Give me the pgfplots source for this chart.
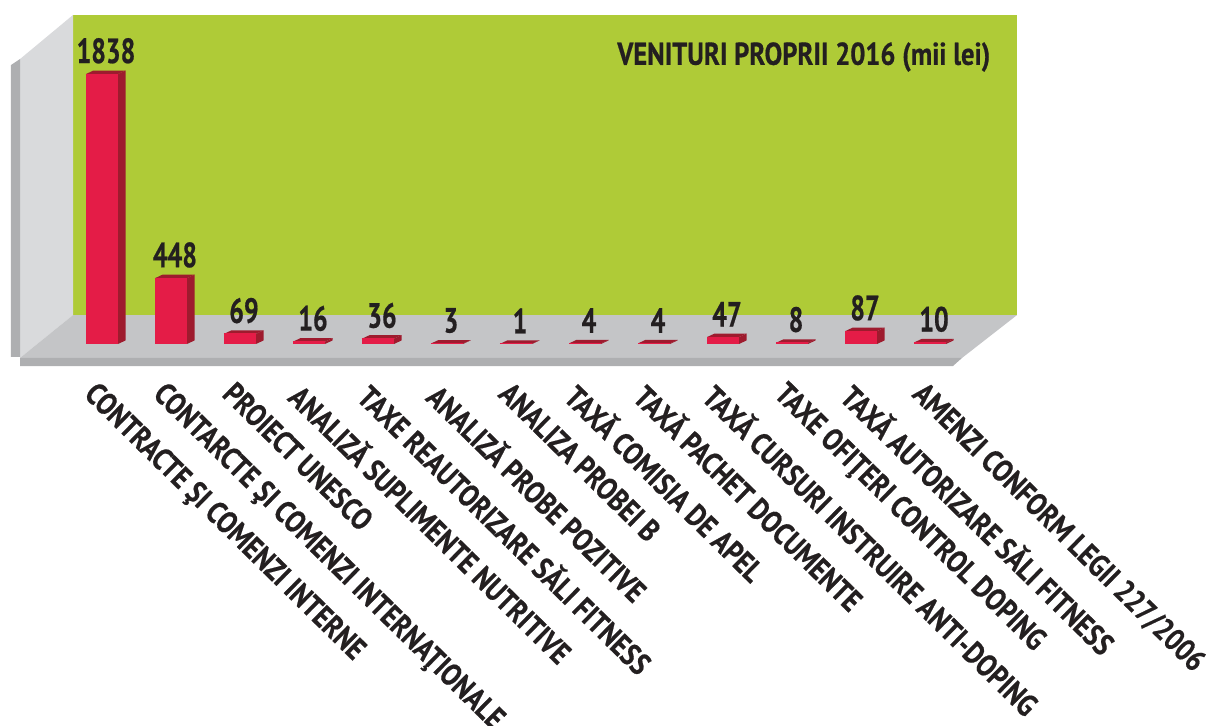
\documentclass[border=0pt]{standalone}
\usepackage{fontspec}
\setmainfont{PT Sans}[FakeStretch=0.84,BoldFeatures={FakeBold=0.5}]
\newfontfamily\numfont{PT Sans}[FakeStretch=0.74,BoldFeatures={FakeBold=0.5}]
\usepackage{pgfplots}
\pgfplotsset{compat=1.18}

\definecolor{wallgreen}{HTML}{AFCB37}
\definecolor{wallside}{HTML}{D9DADC}
\definecolor{wallfloor}{HTML}{C4C5C7}
\definecolor{walledge}{HTML}{AEAFB1}
\definecolor{barfront}{HTML}{E41C47}
\definecolor{barside}{HTML}{9E1B2E}
\definecolor{txt}{HTML}{231F20}

% top and side face of a bar: {position}{value}
\newcommand{\depthbar}[2]{%
  \pgfmathsetmacro{\xl}{#1-0.232}%
  \pgfmathsetmacro{\xr}{#1+0.232}%
  \pgfmathsetmacro{\xlb}{#1-0.232+0.109}%
  \pgfmathsetmacro{\xrb}{#1+0.232+0.109}%
  \pgfmathsetmacro{\yb}{#2+24}%
  \addplot[fill=barside,draw=none,forget plot] coordinates {(\xr,0) (\xrb,24) (\xrb,\yb) (\xr,#2)} -- cycle;
  \addplot[fill=barside,draw=none,forget plot] coordinates {(\xl,#2) (\xr,#2) (\xrb,\yb) (\xlb,\yb)} -- cycle;
}

\begin{document}
\begin{tikzpicture}[x=1pt,y=1pt]
\useasboundingbox (0,-179.5) rectangle (605.5,183);
\begin{axis}[
    at={(0,0)}, anchor=south west,
    scale only axis,
    width=605.5pt, height=183pt,
    xmin=-1.478, xmax=16.072,
    ymin=-150, ymax=2342,
    axis line style={draw=none},
    major tick style={draw=none},
    ytick=\empty,
    xtick={0,1,2,3,4,5,6,7,8,9,10,11,12},
    xticklabels={
        CONTRACTE ŞI COMENZI INTERNE,
        CONTARCTE ŞI COMENZI INTERNAŢIONALE,
        PROIECT UNESCO,
        ANALIZĂ SUPLIMENTE NUTRITIVE,
        TAXE REAUTORIZARE SĂLI FITNESS,
        ANALIZĂ PROBE POZITIVE,
        ANALIZA PROBEI B,
        TAXĂ COMISIA DE APEL,
        TAXĂ PACHET DOCUMENTE,
        TAXĂ CURSURI INSTRUIRE ANTI-DOPING,
        TAXE OFIŢERI CONTROL DOPING,
        TAXĂ AUTORIZARE SĂLI FITNESS,
        AMENZI CONFORM LEGII 227/2006},
    xticklabel style={rotate=-44.5, anchor=north west, font=\bfseries\fontsize{15.5}{17}\selectfont,
        text=txt, inner sep=0pt, xshift=3.5pt, yshift=-6pt},
    clip=false,
]
% walls and floor
\addplot[fill=wallgreen,draw=none,forget plot] coordinates {(-0.420,2240) (13.261,2240) (13.261,197) (-0.420,197)} -- cycle;
\addplot[fill=wallside,draw=none,forget plot] coordinates {(-0.420,2240) (-1.188,1940) (-1.188,-95) (-0.420,197)} -- cycle;
\addplot[fill=walledge,draw=none,forget plot] coordinates {(-1.319,1899) (-1.188,1940) (-1.188,-88) (-1.319,-88)} -- cycle;
\addplot[fill=wallfloor,draw=none,forget plot] coordinates {(-0.420,197) (13.261,197) (12.464,-95) (-1.188,-95)} -- cycle;
\addplot[fill=walledge,draw=none,forget plot] coordinates {(-1.188,-95) (12.464,-95) (12.333,-150) (-1.188,-150)} -- cycle;
% bar depth
\depthbar{0}{1838}
\depthbar{1}{448}
\depthbar{2}{69}
\depthbar{3}{16}
\depthbar{4}{36}
\depthbar{5}{3}
\depthbar{6}{1}
\depthbar{7}{4}
\depthbar{8}{4}
\depthbar{9}{47}
\depthbar{10}{8}
\depthbar{11}{87}
\depthbar{12}{10}
% bar fronts
\addplot[ybar, bar width=0.455, fill=barfront, draw=barfront, line width=0.5pt,
    nodes near coords,
    point meta=explicit symbolic,
    every node near coord/.append style={font=\numfont\bfseries\fontsize{17.5}{19}\selectfont,
        text=txt, anchor=south, inner sep=0pt, xshift=2pt, yshift=5pt}]
    coordinates {
    (0,1838) [1838] (1,448) [448] (2,69) [69] (3,16) [16] (4,36) [36] (5,3) [3] (6,1) [1]
    (7,4) [4] (8,4) [4] (9,47) [47] (10,8) [8] (11,87) [87] (12,10) [10]
    };
\node[anchor=east, inner sep=0pt, text=txt, font=\bfseries\fontsize{15.8}{17}\selectfont]
    at (axis cs:12.88,1954) {VENITURI PROPRII 2016 (mii lei)};
\end{axis}
\end{tikzpicture}
\end{document}
